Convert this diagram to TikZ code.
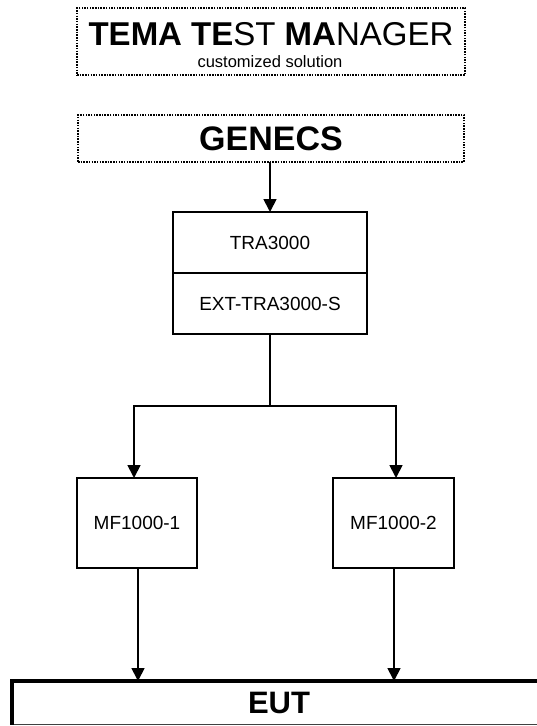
\documentclass[tikz,border=0pt]{standalone}
\usepackage{fontspec}
\setmainfont{Liberation Sans}
\usetikzlibrary{arrows.meta}
\begin{document}
\begin{tikzpicture}[x=1pt,y=-1pt,
  dotbox/.style={draw, line width=1.5pt, dash pattern=on 1.5pt off 1.2pt, inner sep=0pt, outer sep=0pt},
  solidbox/.style={draw, line width=1.8pt, inner sep=0pt, outer sep=0pt, font=\fontsize{19}{22}\selectfont},
  conn/.style={line width=1.8pt, -{Triangle[length=13pt,width=13pt]}},
  plain/.style={line width=1.8pt},
]
\useasboundingbox (0,0) rectangle (537,726);
% title box
\node[dotbox, minimum width=388pt, minimum height=67pt] (tema) at (271,41.5) {};
\node[anchor=base, inner sep=0pt, font=\fontsize{33}{36}\selectfont] (temat) at (271,45)
  {{\bfseries TEMA TE}ST {\bfseries MA}NAGER};
\node[anchor=base, inner sep=0pt, font=\fontsize{16.5}{18}\selectfont] (cust) at (270,67) {customized solution};
% GENECS
\node[dotbox, minimum width=386pt, minimum height=47pt, font=\bfseries\fontsize{34}{36}\selectfont] (genecs) at (271,138.5) {GENECS};
% TRA
\node[solidbox, minimum width=194pt, minimum height=61pt] (tra) at (270,242.5) {TRA3000};
\node[solidbox, minimum width=194pt, minimum height=61pt] (ext) at (270,303.5) {EXT-TRA3000-S};
% MF
\node[solidbox, minimum width=120pt, minimum height=90pt] (mf1) at (137,523) {MF1000-1};
\node[solidbox, minimum width=121pt, minimum height=90pt] (mf2) at (393.5,523) {MF1000-2};
% EUT
\node[draw=black!75, line width=1pt, inner sep=0pt, outer sep=0pt, minimum width=534pt, minimum height=43.5pt,
      font=\bfseries\fontsize{31}{34}\selectfont] (eut) at (279,702.75) {EUT};
\draw[line width=3.5pt] (eut.north east) -- (eut.north west) -- (eut.south west);
% connectors
\draw[conn] (genecs.south -| tra.north) -- (tra.north);
\coordinate (split) at (270,406);
\coordinate (bl) at (134,406);
\coordinate (br) at (396,406);
\draw[plain] (ext.south) -- (split);
\draw[plain, line cap=rect] (bl) -- (br);
\draw[conn] (bl) -- (bl |- mf1.north);
\draw[conn] (br) -- (br |- mf2.north);
\draw[conn] ([xshift=1pt]mf1.south) -- ([xshift=1pt]mf1.south |- eut.north);
\draw[conn] ([xshift=0.5pt]mf2.south) -- ([xshift=0.5pt]mf2.south |- eut.north);
\end{tikzpicture}
\end{document}
